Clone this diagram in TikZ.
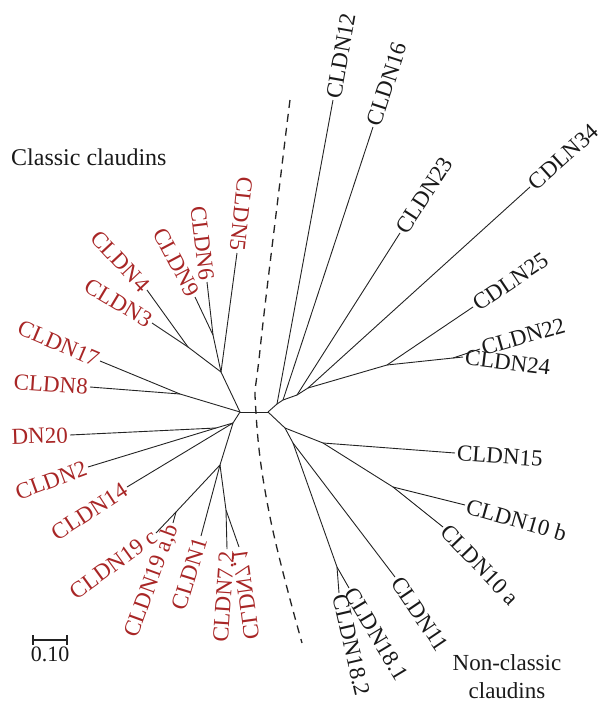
\documentclass[tikz,border=0pt]{standalone}
\usepackage{fontspec}
\setmainfont{Liberation Serif}
\usepackage{tikz}
\usepackage{xcolor}
\usetikzlibrary{calc}
\definecolor{clred}{RGB}{168,38,38}
\definecolor{treegray}{RGB}{35,35,35}
\newcommand{\lblfont}{\fontsize{23}{28}\selectfont}

\begin{document}
\begin{tikzpicture}[x=1pt,y=-1pt,
  branch/.style={draw=treegray,line width=0.9pt},
  cl/.style={text=clred,inner sep=2pt,font=\lblfont},
  ncl/.style={text=black!90,inner sep=2pt,font=\lblfont},
  split/.style={draw=treegray,line width=1.3pt,dash pattern=on 8pt off 6pt}]
\useasboundingbox (0,0) rectangle (605,704);
% inner nodes of the tree
\foreach \n/\x/\y in {a/240/412,k1/221/372,k2/213/335,k3/188/347,k4/180/394,j2/233/423,k5/216/428,j3/220/465,j4/176/512,j5/226/510,
  b/268/412,r1/277/404,r2/283/400,r3/297/395,r4/308/388,r5/387/365,r6/453/358,r7/285/428,r8/293/443,r9/337/567,r10/323/443,r11/393/487}
  \coordinate (\n) at (\x,\y);
\foreach \c/\p in {b/a,k1/a,k2/k1,k3/k1,k4/a,j2/a,k5/j2,j3/j2,j4/j3,j5/j3,
  r1/b,r2/r1,r3/r2,r4/r3,r5/r4,r6/r5,r7/b,r8/r7,r9/r8,r10/r7,r11/r10}
  \draw[branch] (\p) -- (\c);
% classic claudins
\foreach \n/\x/\y/\r/\p/\txt in {c5/237/253/-96/k1/CLDN5,c6/207/282/-83/k2/CLDN6,c9/195/297/-62/k2/CLDN9,
  c4/147/290/-47/k3/CLDN4,c3/152/323/-31/k3/CLDN3,c17/100/361/-23/k4/CLDN17,c8/90/387/-4/k4/CLDN8,
  c20/70/435/2/k5/DN20,c2/88/467/20/k5/CLDN2,c14/127/487/33/j2/CLDN14,c19c/156/533/36/j4/{CLDN19 c},
  c19ab/173/523/70/j4/{CLDN19 a,b},c1/201/536/73/j3/CLDN1,c72/227/549/86/j5/CLDN7.2}{
  \node[cl,rotate=\r,anchor=east] (\n) at (\x,\y) {\txt};
  \draw[branch] (\p) -- (\n.east);
}
% this one is printed mirrored
\node[cl,rotate=-82,xscale=-1,anchor=east] (c71) at (239,547) {CLDN7.1};
\draw[branch] (j5) -- (c71.east);
% non-classic claudins
\foreach \n/\x/\y/\r/\p/\txt in {c12/333/100/80/r1/CLDN12,c16/373/127/72/r2/CLDN16,c23/400/233/57/r3/CLDN23,
  c34/530/187/42/r4/CDLN34,c25/473/307/34/r5/CDLN25,c22/480/349/16/r6/CLDN22,c24/463/357/-7/r6/CLDN24,
  c15/455/453/-4/r10/CLDN15,c10b/465/505/-16/r11/{CLDN10 b},c10a/443/527/-46/r11/{CLDN10 a},
  c11/395/577/-56/r8/CLDN11,c181/349/588/-59/r9/CLDN18.1,c182/339/593/-77/r9/CLDN18.2}{
  \node[ncl,rotate=\r,anchor=west] (\n) at (\x,\y) {\txt};
  \draw[branch] (\p) -- (\n.west);
}
% dividing line
\draw[split] plot[smooth,tension=0.7] coordinates {(290,100) (283,157) (260,350) (256,413) (270,517) (302,643)};
\node[ncl,anchor=west,font=\fontsize{24}{28}\selectfont] (classic) at (9,157) {Classic claudins};
\node[ncl,align=center] (nonclassic) at (507,677) {Non-classic\\claudins};
% scale bar
\coordinate (sbl) at (33,640);
\coordinate (sbr) at (67,640);
\draw[branch,line width=1.2pt] (sbl) -- (sbr);
\draw[branch,line width=1.2pt] ($(sbl)+(0,-5)$) -- ($(sbl)+(0,5)$) ($(sbr)+(0,-5)$) -- ($(sbr)+(0,5)$);
\node[ncl,font=\fontsize{22}{26}\selectfont,below=5pt] (sbtext) at ($(sbl)!0.5!(sbr)$) {0.10};
\end{tikzpicture}
\end{document}
